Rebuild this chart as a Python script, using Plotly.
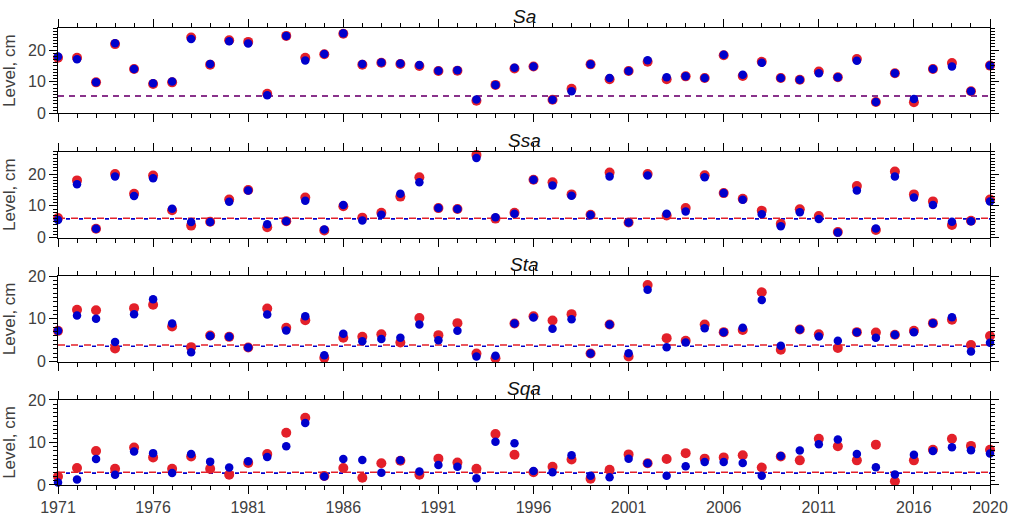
import plotly.graph_objects as go
from plotly.subplots import make_subplots

years = list(range(1971, 2021))

sa_red = [17.6, 17.6, 9.8, 21.9, 14.0, 9.3, 9.8, 24.0, 15.4, 23.1, 22.6, 6.2, 24.5, 17.6, 18.7, 25.2,
          15.4, 16.0, 15.6, 15.0, 13.4, 13.5, 4.0, 9.0, 14.2,
          14.8, 4.3, 7.8, 15.5, 10.8, 13.4, 16.3, 10.8, 11.7, 11.2, 18.4, 11.8, 16.3, 11.2, 10.6,
          13.2, 11.4, 17.2, 3.6, 12.7, 3.5, 14.0, 15.9, 7.0, 15.1]
sa_blue = [18.0, 17.1, 9.8, 22.2, 14.0, 9.5, 10.1, 23.5, 15.6, 22.8, 22.1, 5.7, 24.5, 16.7, 18.8, 25.3,
           15.6, 16.1, 15.8, 15.3, 13.5, 13.6, 4.4, 9.0, 14.4,
           14.8, 4.3, 7.0, 15.5, 11.2, 13.4, 16.8, 11.4, 11.7, 11.2, 18.5, 12.2, 16.0, 11.2, 10.6,
           12.7, 11.4, 16.6, 3.6, 12.7, 4.5, 14.0, 14.8, 7.0, 15.1]

ssa_red = [6.2, 18.0, 2.8, 20.0, 13.8, 19.5, 8.6, 3.8, 5.0, 12.0, 15.0, 3.3, 5.2, 12.6, 2.3, 9.9,
           6.3, 7.8, 12.9, 19.0, 9.3, 9.0, 26.0, 6.0, 7.8,
           18.2, 17.4, 13.6, 7.2, 20.5, 4.8, 20.0, 7.0, 9.3, 19.6, 14.0, 12.2, 8.5, 4.4, 8.9,
           6.8, 1.8, 16.2, 2.4, 20.8, 13.6, 11.4, 4.0, 5.3, 12.0]
ssa_blue = [5.6, 16.8, 2.8, 19.2, 13.1, 18.7, 9.1, 4.9, 4.9, 11.3, 14.8, 4.2, 5.2, 11.6, 2.6, 10.3,
            5.4, 7.2, 13.8, 17.4, 9.3, 9.0, 25.0, 6.4, 7.5,
            18.2, 16.4, 13.2, 7.1, 19.2, 4.8, 19.5, 7.5, 8.2, 19.0, 14.0, 11.9, 7.4, 3.6, 8.0,
            5.9, 1.6, 14.8, 2.9, 19.2, 12.6, 10.3, 5.0, 5.2, 11.4]

sta_red = [7.2, 12.1, 12.0, 3.1, 12.5, 13.3, 8.2, 3.4, 6.1, 5.8, 3.3, 12.4, 7.9, 9.7, 0.9, 5.6,
           5.8, 6.4, 4.5, 10.2, 6.2, 9.0, 1.9, 0.8, 8.9,
           10.6, 9.6, 11.1, 1.9, 8.7, 1.2, 17.9, 5.5, 4.9, 8.7, 6.9, 7.4, 16.2, 2.8, 7.5,
           6.4, 3.2, 6.9, 6.8, 6.3, 7.2, 9.0, 9.8, 3.9, 6.0]
sta_blue = [7.2, 10.8, 10.0, 4.6, 11.1, 14.6, 8.9, 2.2, 6.0, 5.8, 3.3, 11.0, 7.3, 10.6, 1.5, 6.5,
            4.8, 5.3, 5.6, 8.7, 5.0, 7.2, 1.2, 1.4, 8.9,
            10.3, 7.7, 9.9, 1.9, 8.7, 2.0, 16.8, 3.4, 4.5, 7.8, 6.9, 7.9, 14.4, 3.7, 7.5,
            5.9, 4.9, 6.9, 5.6, 6.3, 6.9, 9.0, 10.4, 2.4, 4.4]

sqa_red = [2.0, 4.0, 8.0, 3.8, 8.8, 6.5, 3.8, 6.7, 3.8, 2.4, 5.2, 7.3, 12.3, 15.8, 2.1, 4.0,
           1.7, 5.1, 5.7, 2.4, 6.2, 5.3, 3.8, 12.0, 7.1,
           3.0, 4.3, 6.0, 1.5, 3.6, 7.2, 5.1, 6.1, 7.5, 6.2, 6.5, 7.0, 4.1, 6.7, 5.8,
           10.9, 9.1, 5.8, 9.5, 0.9, 5.8, 8.3, 10.9, 9.2, 8.3]
sqa_blue = [0.6, 1.3, 6.1, 2.4, 7.9, 7.5, 2.8, 7.3, 5.5, 4.1, 5.6, 6.6, 9.1, 14.6, 2.0, 6.1,
            5.9, 2.9, 5.8, 3.2, 4.7, 4.3, 1.6, 10.2, 9.8,
            3.3, 3.0, 7.0, 2.2, 1.8, 6.2, 5.1, 2.2, 4.4, 5.4, 5.4, 5.2, 2.2, 6.8, 8.1,
            9.6, 10.7, 7.3, 4.2, 2.5, 7.1, 8.0, 8.9, 8.2, 7.4]

panel_titles = ["Sa", "Ssa", "Sta", "Sqa"]
red_series = [sa_red, ssa_red, sta_red, sqa_red]
blue_series = [sa_blue, ssa_blue, sta_blue, sqa_blue]
red_levels = [5.5, 6.1, 3.9, 3.0]
blue_levels = [5.5, 5.9, 3.6, 2.8]
y_max = [27, 27, 20, 20]

x_tickvals = [1971, 1976, 1981, 1986, 1991, 1996, 2001, 2006, 2011, 2016, 2020]
x_ticktext = [str(v) for v in x_tickvals]

RED = "#e3202a"
BLUE = "#0000cc"
TXT = "#404040"
FONT = "Liberation Sans, Arial, sans-serif"

fig = make_subplots(rows=4, cols=1, shared_xaxes=True)

domains = [[0.8133, 1.0], [0.5411, 0.7293], [0.2698, 0.4573], [0.0, 0.186]]

for i in range(4):
    r = i + 1
    x_ends = [years[0], years[-1]]
    if i == 0:
        red_dash, blue_dash, blue_op = "6px,5px", "6px,5px", 0.55
    else:
        red_dash, blue_dash, blue_op = "7px,6px", "0px,8px,4px,1px", 1.0
    fig.add_trace(go.Scatter(x=x_ends, y=[red_levels[i]] * 2, mode="lines",
                             line=dict(color=RED, width=1.6, dash=red_dash),
                             showlegend=False, hoverinfo="skip"), row=r, col=1)
    fig.add_trace(go.Scatter(x=x_ends, y=[blue_levels[i]] * 2, mode="lines",
                             line=dict(color=BLUE, width=1.6, dash=blue_dash),
                             opacity=blue_op, showlegend=False, hoverinfo="skip"), row=r, col=1)
    fig.add_trace(go.Scatter(x=years, y=red_series[i], mode="markers",
                             marker=dict(color=RED, size=10, line=dict(width=0)),
                             cliponaxis=False, showlegend=False), row=r, col=1)
    fig.add_trace(go.Scatter(x=years, y=blue_series[i], mode="markers",
                             marker=dict(color=BLUE, size=8.5, line=dict(width=0)),
                             cliponaxis=False, showlegend=False), row=r, col=1)

    fig.update_yaxes(row=r, col=1, domain=domains[i], range=[0, y_max[i]], automargin=False,
                     tickvals=[0, 10, 20], ticks="outside", ticklen=8, tickwidth=1,
                     tickcolor="black",
                     minor=dict(dtick=1, tick0=0, ticks="outside", ticklen=4, tickcolor="black"),
                     showline=True, linecolor="black", linewidth=1, mirror="ticks",
                     showgrid=False, zeroline=False,
                     tickfont=dict(family=FONT, size=16, color=TXT),
                     title=dict(text="Level, cm", standoff=9,
                                font=dict(family=FONT, size=17, color=TXT)))
    fig.update_xaxes(row=r, col=1, range=[1971, 2020], tickvals=x_tickvals, ticktext=x_ticktext,
                     automargin=False,
                     ticks="outside", ticklen=8, tickwidth=1, tickcolor="black",
                     minor=dict(dtick=1, tick0=1971, ticks="outside", ticklen=4, tickcolor="black"),
                     showline=True, linecolor="black", linewidth=1, mirror="ticks",
                     showgrid=False, zeroline=False, showticklabels=(i == 3),
                     tickfont=dict(family=FONT, size=16, color=TXT))
    fig.add_annotation(text="<i>" + panel_titles[i] + "</i>", xref="paper", yref="paper",
                       x=0.5, y=domains[i][1], xanchor="center", yanchor="bottom", yshift=-1,
                       showarrow=False,
                       font=dict(family=FONT, size=19, color="#111111"))

fig.update_layout(width=1013, height=520, margin=dict(l=58, r=23, t=28, b=35),
                  plot_bgcolor="white", paper_bgcolor="white")

fig.write_html("out.html")
